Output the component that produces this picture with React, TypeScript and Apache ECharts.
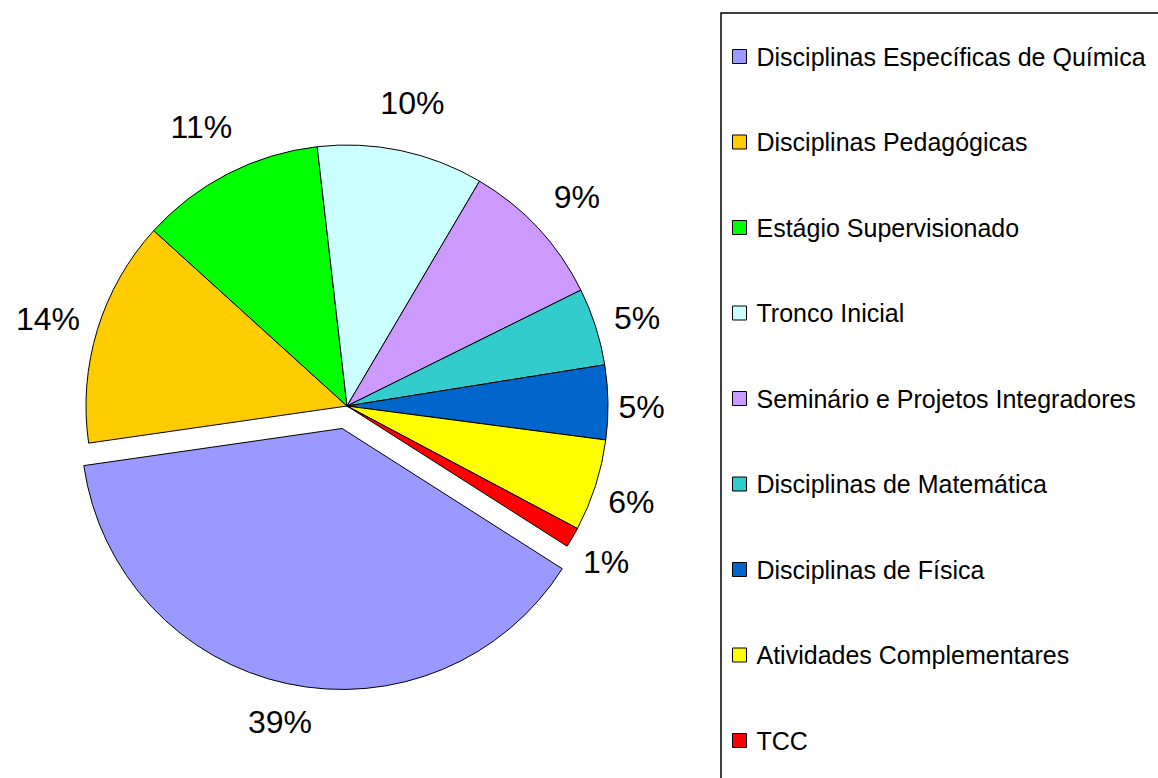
import React, { useEffect, useRef } from "react";
import * as echarts from "echarts";

const categories = [
  "Disciplinas Específicas de Química",
  "Disciplinas Pedagógicas",
  "Estágio Supervisionado",
  "Tronco Inicial",
  "Seminário e Projetos Integradores",
  "Disciplinas de Matemática",
  "Disciplinas de Física",
  "Atividades Complementares",
  "TCC",
];
const values = [38.7, 14.0, 11.45, 10.3, 9.2, 4.8, 4.6, 5.7, 1.25];
const colors = [
  "#9999FF",
  "#FFCC00",
  "#00FF00",
  "#CCFFFF",
  "#CC99FF",
  "#33CCCC",
  "#0066CC",
  "#FFFF00",
  "#FF0000",
];
const exploded = [true, false, false, false, false, false, false, false, false];

const CX = 347;
const CY = 406;
const RADIUS = 261;
const START = 327.5;
const OFFSET = 23;
const FONT = "'Liberation Sans', Arial, sans-serif";

export default function App() {
  const ref = useRef<HTMLDivElement>(null);

  useEffect(() => {
    if (!ref.current) return;
    const chart = echarts.init(ref.current, undefined, { renderer: "svg" });
    const total = values.reduce((a, b) => a + b, 0);
    const mids: number[] = [];
    let cum = 0;
    values.forEach((v) => {
      mids.push(START - ((cum + v / 2) / total) * 360);
      cum += v;
    });
    const expIdx = exploded.indexOf(true);
    const expRad = (mids[expIdx] * Math.PI) / 180;
    const EX = CX + OFFSET * Math.cos(expRad);
    const EY = CY - OFFSET * Math.sin(expRad);

    const makeLayout = (cx: number, cy: number) => (p: any) => {
      const i = p.dataIndex;
      const rad = (mids[i] * Math.PI) / 180;
      const c = Math.abs(Math.cos(rad));
      const sn = Math.sin(rad);
      const s = Math.abs(sn);
      const w = p.labelRect ? p.labelRect.width : 50;
      const k = sn > 0 ? 38 : 18;
      const d = RADIUS + 10 + (w / 2) * c + k * s;
      return {
        x: cx + d * Math.cos(rad),
        y: cy - d * sn + 5,
        align: "center",
        verticalAlign: "middle",
      };
    };

    const makeSeries = (showExploded: boolean, cx: number, cy: number) => ({
      type: "pie",
      center: [cx, cy],
      radius: RADIUS,
      startAngle: START,
      clockwise: true,
      percentPrecision: 0,
      silent: true,
      avoidLabelOverlap: false,
      emphasis: { scale: false },
      label: {
        show: true,
        position: "outside",
        formatter: "{d}%",
        fontSize: 32,
        color: "#000",
        fontFamily: FONT,
      },
      labelLine: { show: false },
      labelLayout: makeLayout(cx, cy),
      data: categories.map((name, i) => {
        const visible = exploded[i] === showExploded;
        return {
          name,
          value: values[i],
          itemStyle: visible
            ? { color: colors[i], borderColor: "#000", borderWidth: 1 }
            : { color: "rgba(0,0,0,0)", borderWidth: 0 },
          label: { show: visible },
        };
      }),
    });

    chart.setOption({
      animation: false,
      backgroundColor: "#ffffff",
      legend: {
        orient: "vertical",
        left: 727,
        top: 39,
        itemWidth: 14,
        itemHeight: 14,
        itemGap: 60.5,
        icon: "rect",
        selectedMode: false,
        data: categories.map((name, i) => ({
          name,
          itemStyle: { color: colors[i], borderColor: "#000", borderWidth: 1 },
        })),
        itemStyle: { borderColor: "#000", borderWidth: 1 },
        textStyle: {
          fontSize: 25,
          color: "#000",
          fontFamily: FONT,
          lineHeight: 24,
          padding: [0, 0, 0, 5],
        },
      },
      graphic: [
        {
          type: "rect",
          shape: { x: 721, y: 13, width: 700, height: 900 },
          style: { fill: "none", stroke: "#000", lineWidth: 1.5 },
          silent: true,
        },
      ],
      series: [makeSeries(false, CX, CY), makeSeries(true, EX, EY)],
    });

    return () => chart.dispose();
  }, []);

  return (
    <div
      ref={ref}
      style={{ position: "absolute", left: 0, top: 0, width: 1158, height: 778 }}
    />
  );
}
